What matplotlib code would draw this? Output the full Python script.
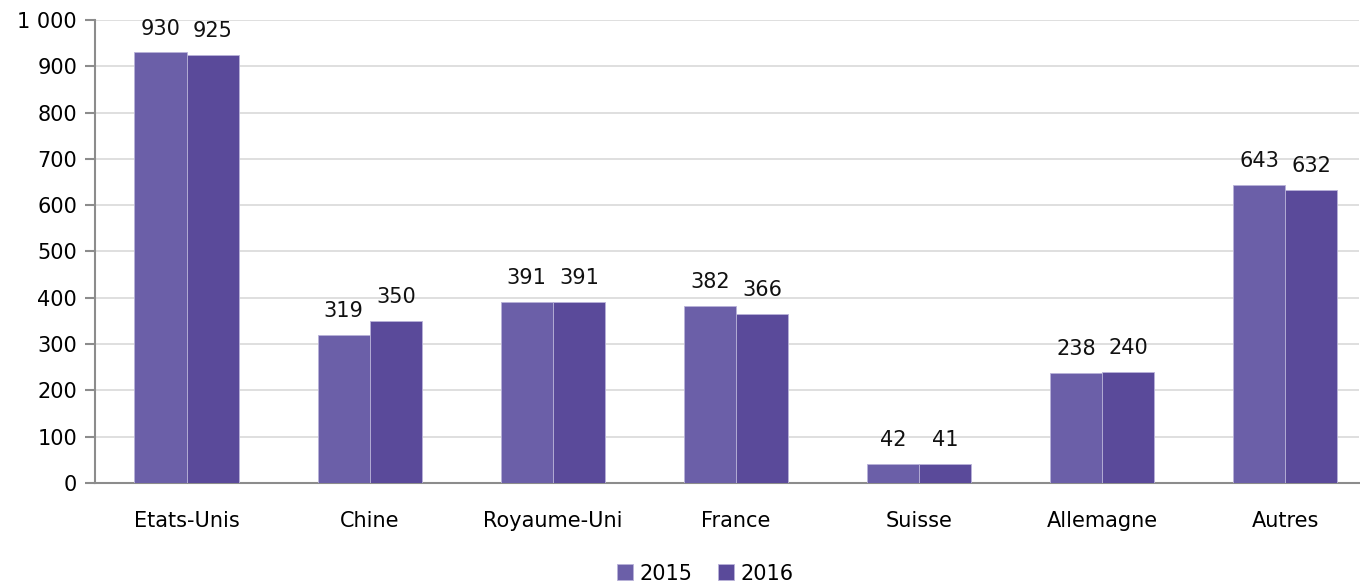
import matplotlib.pyplot as plt
import numpy as np
from matplotlib.ticker import FuncFormatter

categories = ['Etats-Unis', 'Chine', 'Royaume-Uni', 'France', 'Suisse', 'Allemagne', 'Autres']
values_2015 = [930, 319, 391, 382, 42, 238, 643]
values_2016 = [925, 350, 391, 366, 41, 240, 632]
series_labels = ['2015', '2016']

plt.rcParams['font.family'] = ['DejaVu Sans']

fig = plt.figure(figsize=(13.6, 5.85), dpi=100)
ax = fig.add_axes([0.0699, 0.1744, 0.929, 0.7914])

x = np.arange(len(categories))
w = 0.285
colors = ['#6B5FA8', '#5A4A9A']

b1 = ax.bar(x - w / 2, values_2015, w, color=colors[0], edgecolor='#B8B2D8', linewidth=0.6,
            label=series_labels[0], zorder=3)
b2 = ax.bar(x + w / 2, values_2016, w, color=colors[1], edgecolor='#B8B2D8', linewidth=0.6,
            label=series_labels[1], zorder=3)

for bars in (b1, b2):
    for r in bars:
        ax.annotate(f'{int(r.get_height())}', (r.get_x() + r.get_width() / 2, r.get_height()),
                    xytext=(0, 10), textcoords='offset points', ha='center', va='bottom',
                    fontsize=15, color='#111111')

ax.set_xlim(-0.5, 6.4)
ax.set_ylim(0, 1000)
ax.set_yticks(np.arange(0, 1001, 100))
ax.yaxis.set_major_formatter(FuncFormatter(lambda v, p: f'{int(v):,}'.replace(',', ' ')))
ax.set_xticks(x)
ax.set_xticklabels(categories)

ax.grid(axis='y', color='#D9D9D9', linewidth=1.2, zorder=0)
for s in ['top', 'right']:
    ax.spines[s].set_visible(False)
for s in ['left', 'bottom']:
    ax.spines[s].set_color('#8C8C8C')
    ax.spines[s].set_linewidth(1.5)

ax.tick_params(axis='y', length=7, color='#8C8C8C', width=1.5, labelsize=15, pad=6)
ax.tick_params(axis='x', length=0, labelsize=15, pad=20)

ax.legend(loc='upper center', bbox_to_anchor=(0.483, -0.147), ncol=2, frameon=False,
          fontsize=15, handlelength=0.8, handleheight=0.8, handletextpad=0.3, columnspacing=1.2,
          borderaxespad=0.2)

fig.savefig('out.png', dpi=100)
